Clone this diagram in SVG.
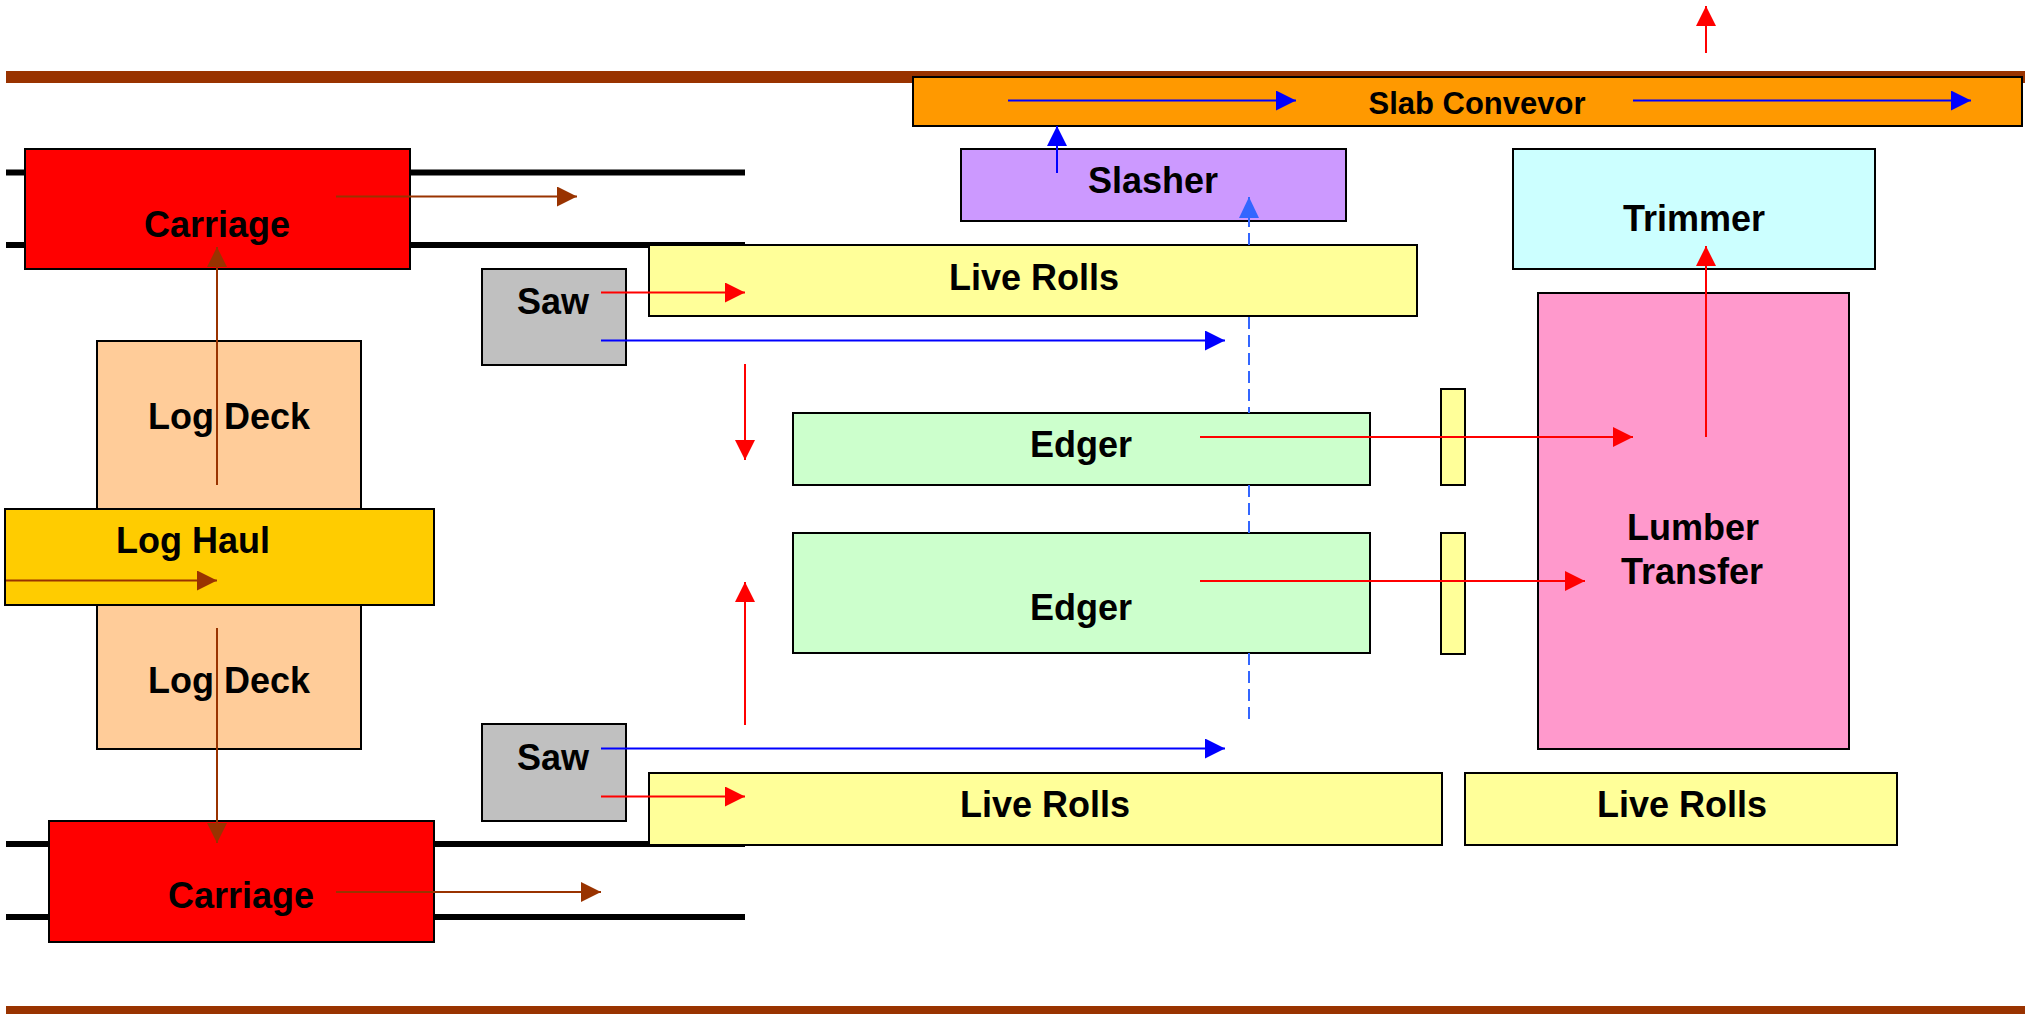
<svg xmlns="http://www.w3.org/2000/svg" width="2025" height="1014" viewBox="0 0 2025 1014">
<style>
.box{stroke:#000;stroke-width:2}
.lbl{font-family:"Liberation Sans",Arial,sans-serif;font-weight:bold;font-size:36px;fill:#000;text-anchor:middle}
.rail{stroke:#000;stroke-width:6}
.brn{stroke:#993300;stroke-width:2;fill:none}
.red{stroke:#FF0000;stroke-width:2;fill:none}
.blu{stroke:#0000FF;stroke-width:2;fill:none}
.dsh{stroke:#3366FF;stroke-width:2;fill:none;stroke-dasharray:12 6}
</style>
<defs>
<marker id="aBrn" markerUnits="userSpaceOnUse" markerWidth="20" markerHeight="20" refX="20" refY="10" orient="auto"><path d="M0,0 L20,10 L0,20 z" fill="#993300"/></marker>
<marker id="aRed" markerUnits="userSpaceOnUse" markerWidth="20" markerHeight="20" refX="20" refY="10" orient="auto"><path d="M0,0 L20,10 L0,20 z" fill="#FF0000"/></marker>
<marker id="aBlu" markerUnits="userSpaceOnUse" markerWidth="20" markerHeight="20" refX="20" refY="10" orient="auto"><path d="M0,0 L20,10 L0,20 z" fill="#0000FF"/></marker>
<marker id="aDsh" markerUnits="userSpaceOnUse" markerWidth="21" markerHeight="20" refX="21" refY="10" orient="auto"><path d="M0,0 L21,10 L0,20 z" fill="#3366FF"/></marker>
</defs>
<rect width="2025" height="1014" fill="#FFFFFF"/>
<g id="background">
<rect x="6" y="71" width="2019" height="12" fill="#993300"/>
<rect x="6" y="1006" width="2019" height="12" fill="#993300"/>
<line class="rail" x1="6" y1="172.5" x2="745" y2="172.5"/>
<line class="rail" x1="6" y1="245" x2="745" y2="245"/>
<line class="rail" x1="6" y1="844" x2="745" y2="844"/>
<line class="rail" x1="6" y1="917" x2="745" y2="917"/>
</g>
<g id="carriage-top"><rect class="box" x="25" y="149" width="385" height="120" fill="#FF0000"/><text class="lbl" x="217" y="237">Carriage</text></g>
<g id="log-deck-top"><rect class="box" x="97" y="341" width="264" height="168" fill="#FFCC99"/><text class="lbl" x="229" y="429">Log Deck</text></g>
<g id="log-deck-bottom"><rect class="box" x="97" y="605" width="264" height="144" fill="#FFCC99"/><text class="lbl" x="229" y="693">Log Deck</text></g>
<g id="log-haul"><rect class="box" x="5" y="509" width="429" height="96" fill="#FFCC00"/><text class="lbl" x="193" y="553">Log Haul</text></g>
<g id="carriage-bottom"><rect class="box" x="49" y="821" width="385" height="121" fill="#FF0000"/><text class="lbl" x="241" y="908">Carriage</text></g>
<g id="saw-top"><rect class="box" x="482" y="269" width="144" height="96" fill="#C0C0C0"/><text class="lbl" x="553" y="314">Saw</text></g>
<g id="saw-bottom"><rect class="box" x="482" y="724" width="144" height="97" fill="#C0C0C0"/><text class="lbl" x="553" y="770">Saw</text></g>
<g id="slab-conveyor"><rect class="box" x="913" y="77" width="1109" height="49" fill="#FF9900"/><text class="lbl" x="1477" y="114" style="font-size:31px">Slab Convevor</text></g>
<g id="slasher"><rect class="box" x="961" y="149" width="385" height="72" fill="#CC99FF"/><text class="lbl" x="1153" y="193">Slasher</text></g>
<g id="trimmer"><rect class="box" x="1513" y="149" width="362" height="120" fill="#CCFFFF"/><text class="lbl" x="1694" y="231">Trimmer</text></g>
<g id="live-rolls-top"><rect class="box" x="649" y="245" width="768" height="71" fill="#FFFF99"/><text class="lbl" x="1034" y="290">Live Rolls</text></g>
<g id="edger-top"><rect class="box" x="793" y="413" width="577" height="72" fill="#CCFFCC"/><text class="lbl" x="1081" y="457">Edger</text></g>
<g id="edger-bottom"><rect class="box" x="793" y="533" width="577" height="120" fill="#CCFFCC"/><text class="lbl" x="1081" y="620">Edger</text></g>
<g id="roll-bar-top"><rect class="box" x="1441" y="389" width="24" height="96" fill="#FFFF99"/></g>
<g id="roll-bar-bottom"><rect class="box" x="1441" y="533" width="24" height="121" fill="#FFFF99"/></g>
<g id="lumber-transfer"><rect class="box" x="1538" y="293" width="311" height="456" fill="#FF99CC"/><text class="lbl" x="1693" y="540">Lumber</text><text class="lbl" x="1692" y="584">Transfer</text></g>
<g id="live-rolls-bottom"><rect class="box" x="649" y="773" width="793" height="72" fill="#FFFF99"/><text class="lbl" x="1045" y="817">Live Rolls</text></g>
<g id="live-rolls-right"><rect class="box" x="1465" y="773" width="432" height="72" fill="#FFFF99"/><text class="lbl" x="1682" y="817">Live Rolls</text></g>
<g id="connectors">
<path class="brn" d="M336,196.5 H577" marker-end="url(#aBrn)"/>
<path class="brn" d="M217,485 V247" marker-end="url(#aBrn)"/>
<path class="brn" d="M6,580.5 H217" marker-end="url(#aBrn)"/>
<path class="brn" d="M217,628 V843" marker-end="url(#aBrn)"/>
<path class="brn" d="M336,892 H601" marker-end="url(#aBrn)"/>
<path class="red" d="M601,292.5 H745" marker-end="url(#aRed)"/>
<path class="blu" d="M601,340.5 H1225" marker-end="url(#aBlu)"/>
<path class="blu" d="M601,748.5 H1225" marker-end="url(#aBlu)"/>
<path class="red" d="M601,796.5 H745" marker-end="url(#aRed)"/>
<path class="red" d="M745,364 V460" marker-end="url(#aRed)"/>
<path class="red" d="M745,725 V582" marker-end="url(#aRed)"/>
<path class="blu" d="M1008,100.5 H1296" marker-end="url(#aBlu)"/>
<path class="blu" d="M1633,100.5 H1971" marker-end="url(#aBlu)"/>
<path class="blu" d="M1057,173 V126" marker-end="url(#aBlu)"/>
<path class="dsh" d="M1249,245 V218 M1249,317 V413 M1249,485 V533 M1249,653 V725"/>
<path class="dsh" style="stroke-dasharray:none" d="M1249,219 V197" marker-end="url(#aDsh)"/>
<path class="red" d="M1200,437 H1633" marker-end="url(#aRed)"/>
<path class="red" d="M1200,581 H1585" marker-end="url(#aRed)"/>
<path class="red" d="M1706,437 V246" marker-end="url(#aRed)"/>
<path class="red" d="M1706,53 V6" marker-end="url(#aRed)"/>
</g>
</svg>
